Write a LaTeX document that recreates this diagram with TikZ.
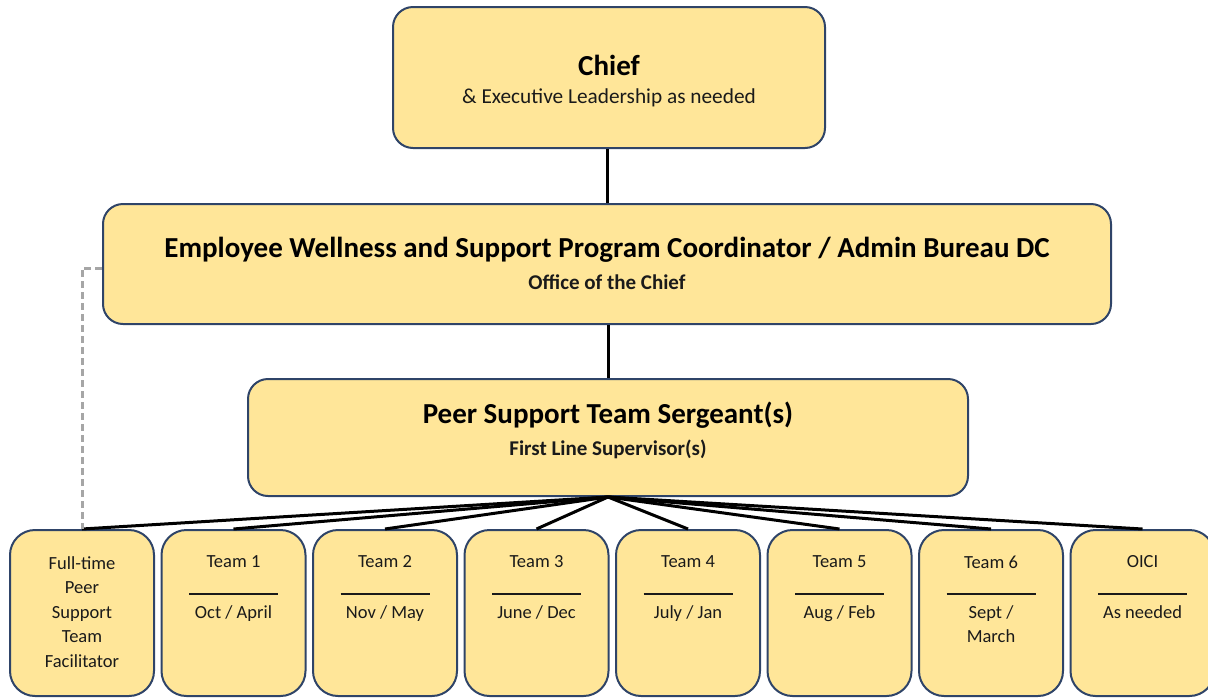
\documentclass[tikz,border=0pt]{standalone}
\usepackage{fontspec}
\setmainfont{Carlito}
\definecolor{boxfill}{HTML}{FFE699}
\definecolor{boxline}{HTML}{2F4468}
\definecolor{dashgray}{HTML}{A6A6A6}
\definecolor{txt}{HTML}{1A1A1A}
\begin{document}
\begin{tikzpicture}[x=1pt,y=-1pt,
  orgbox/.style={draw=boxline, line width=2pt, fill=boxfill, rounded corners=20pt, inner sep=0pt},
  teambox/.style={orgbox, rounded corners=25pt, minimum width=144pt, minimum height=166pt},
  ttl/.style={font=\bfseries\fontsize{29}{34}\selectfont, text=black, inner sep=0pt},
  subb/.style={font=\bfseries\fontsize{21}{24}\selectfont, text=txt, inner sep=0pt},
  subr/.style={font=\fontsize{21.3}{24}\selectfont, text=txt, inner sep=0pt},
  small/.style={font=\fontsize{18.5}{24.5}\selectfont, text=txt, inner sep=0pt, align=center},
  conn/.style={draw=black, line width=3pt},
  teamrule/.style={draw=txt, line width=1.2pt}
]
\useasboundingbox (0,0) rectangle (1208,697);
\node[orgbox, minimum width=432pt, minimum height=141pt] (chief) at (609,77.5) {};
\node[orgbox, minimum width=1008pt, minimum height=120pt] (ewsp) at (607,264) {};
\node[orgbox, minimum width=720pt, minimum height=117pt] (peer) at (608,437.5) {};
\foreach \i/\nm in {0/fac,1/t1,2/t2,3/t3,4/t4,5/t5,6/t6,7/oici}{
  \node[teambox] (\nm) at ({82+151.5*\i},613) {};
}
% connectors
\draw[conn] (chief.south -| ewsp.north) -- (ewsp.north);
\draw[conn] (ewsp.south -| peer.north) -- (peer.north);
\foreach \nm in {fac,t1,t2,t3,t4,t5,t6,oici}{
  \draw[conn] (peer.south) -- (\nm.north);
}
\coordinate (dcorner) at (82,268);
\draw[dashgray, line width=3pt, dash pattern=on 7pt off 4pt] (ewsp.west |- dcorner) -- (dcorner) -- (fac.north);
% texts
\node[ttl] (chiefT) at (609,65) {Chief};
\node[subr] (chiefS) at (609,98) {\& Executive Leadership as needed};
\node[ttl] (ewspT) at (607,250) {Employee Wellness and Support Program Coordinator / Admin Bureau DC};
\node[subb] (ewspS) at (607,282) {Office of the Chief};
\node[ttl] (peerT) at (608,415) {Peer Support Team Sergeant(s)};
\node[subb] (peerS) at (608,449) {First Line Supervisor(s)};
\node[small, anchor=north] (facT) at (82,556) {Full-time\\Peer\\Support\\Team\\Facilitator};
\foreach \i/\nm/\a/\b in {1/t1/{Team 1}/{Oct / April}, 2/t2/{Team 2}/{Nov / May}, 3/t3/{Team 3}/{June / Dec}, 4/t4/{Team 4}/{July / Jan}, 5/t5/{Team 5}/{Aug / Feb}, 6/t6/{Team 6}/{Sept /\\March}, 7/oici/{OICI}/{As needed}}{
  \node[small] (\nm A) at ({82+151.5*\i},562) {\a};
  \draw[teamrule] ({82+151.5*\i-44.5},594) -- ({82+151.5*\i+44.5},594);
  \node[small, anchor=north] (\nm B) at ({82+151.5*\i},605) {\b};
}
\end{tikzpicture}
\end{document}
